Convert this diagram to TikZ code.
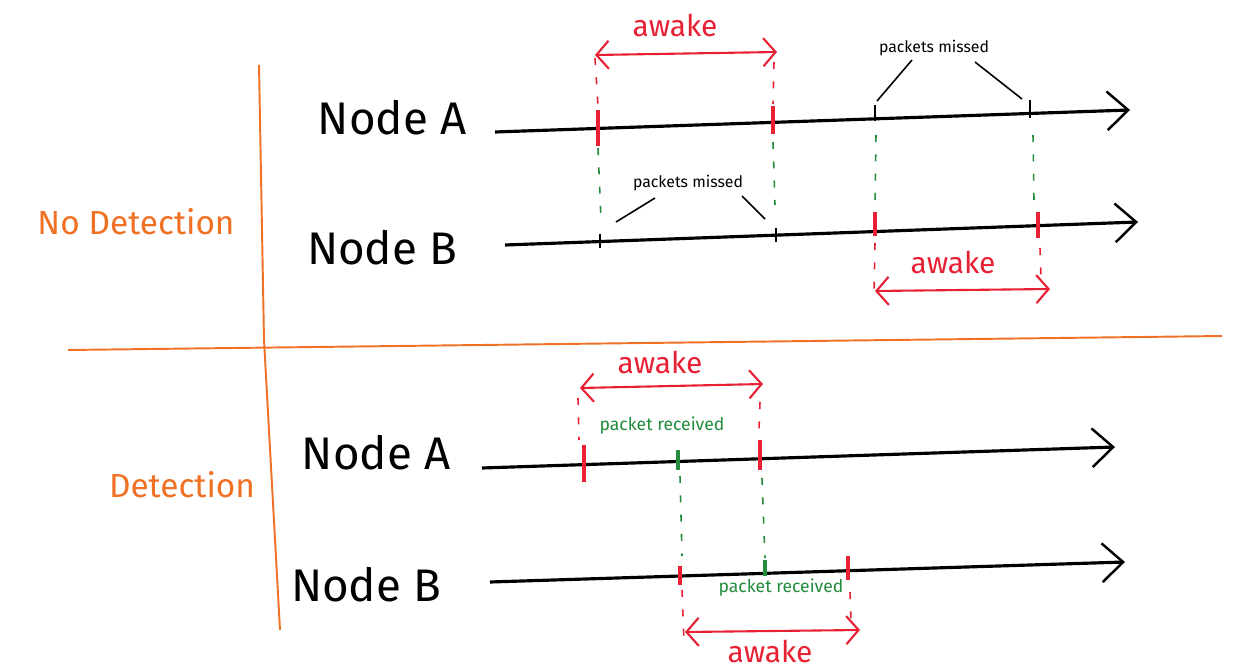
\documentclass[tikz,border=0pt]{standalone}
\usepackage{fontspec}
\setmainfont{Fira Sans}
\usetikzlibrary{arrows.meta}
\definecolor{sketchorange}{RGB}{240,112,36}
\definecolor{sketchred}{RGB}{232,32,52}
\definecolor{sketchgreen}{RGB}{34,140,60}
\tikzset{
  timeline/.style={line width=1.8pt,
    -{Straight Barb[length=12pt,width=22pt,line width=1.4pt]}},
  divider/.style={sketchorange,line width=1.1pt},
  redtick/.style={sketchred,line width=1.8pt},
  blacktick/.style={black,line width=1.4pt},
  greentick/.style={sketchgreen,line width=2.2pt},
  reddash/.style={sketchred,line width=0.9pt,dash pattern=on 4pt off 7pt},
  greendash/.style={sketchgreen,line width=0.9pt,dash pattern=on 4pt off 7pt},
  awakearrow/.style={sketchred,line width=1.2pt,
    {Straight Barb[length=7pt,width=16pt]}-{Straight Barb[length=7pt,width=16pt]}},
  nodelabel/.style={font=\fontsize{26}{28}\selectfont},
  awakelabel/.style={text=sketchred,font=\fontsize{17}{19}\selectfont},
  casetext/.style={text=sketchorange,font=\fontsize{19}{21}\selectfont},
  note/.style={font=\fontsize{9}{10}\selectfont},
  pointer/.style={line width=0.9pt}
}

\begin{document}
\begin{tikzpicture}[x=0.02cm,y=-0.02cm]
  \useasboundingbox (0,0) rectangle (1241,669);

  % dividers
  \draw[divider] (259,65) -- (264,340) -- (280,630);
  \draw[divider] (68,350) -- (1222,336);
  \node[casetext] (nodet) at (136,222) {No Detection};
  \node[casetext] (det) at (182,485) {Detection};

  % ---- no detection ----
  \coordinate (nAs) at (495,132);
  \coordinate (nAe) at (1130,110);
  \coordinate (nBs) at (505,245);
  \coordinate (nBe) at (1138,222);
  \node[nodelabel] (labnA) at (392,118) {Node A};
  \node[nodelabel] (labnB) at (382,248) {Node B};
  \draw[timeline] (nAs) -- (nAe);
  \draw[timeline] (nBs) -- (nBe);

  % A awake
  \draw[reddash] (595,58) -- (598,106);
  \draw[reddash] (774,62) -- (773,104);
  \draw[redtick] (598,110) -- (598,146);
  \draw[redtick] (773,106) -- (773,134);
  \coordinate (aw1s) at (595,55);
  \coordinate (aw1e) at (777,52);
  \draw[awakearrow] (aw1s) -- (aw1e);
  \node[awakelabel] (aw1) at (675,25) {awake};
  \draw[greendash] (598,148) -- (601,220);
  \draw[greendash] (773,142) -- (775,205);

  % B missed
  \draw[blacktick] (600,234) -- (600,248);
  \draw[blacktick] (776,228) -- (776,242);
  \node[note] (miss1) at (688,183) {packets missed};
  \coordinate (m1a) at (616,222);
  \coordinate (m1b) at (765,219);
  \draw[pointer] (655,198) -- (m1a);
  \draw[pointer] (742,196) -- (m1b);

  % A missed
  \draw[blacktick] (875,105) -- (875,121);
  \draw[blacktick] (1030,100) -- (1030,118);
  \node[note] (miss2) at (934,48) {packets missed};
  \coordinate (m2a) at (877,101);
  \coordinate (m2b) at (1022,99);
  \draw[pointer] (912,60) -- (m2a);
  \draw[pointer] (975,62) -- (m2b);
  \draw[greendash] (876,135) -- (875,208);
  \draw[greendash] (1033,135) -- (1034,200);

  % B awake
  \draw[redtick] (875,212) -- (875,236);
  \draw[redtick] (1038,212) -- (1038,238);
  \draw[reddash] (875,243) -- (874,296);
  \draw[reddash] (1040,248) -- (1041,278);
  \coordinate (aw2s) at (875,291);
  \coordinate (aw2e) at (1050,289);
  \draw[awakearrow] (aw2s) -- (aw2e);
  \node[awakelabel] (aw2) at (953,262) {awake};

  % ---- detection ----
  \coordinate (dAs) at (482,468);
  \coordinate (dAe) at (1115,447);
  \coordinate (dBs) at (490,582);
  \coordinate (dBe) at (1125,562);
  \node[nodelabel] (labdA) at (376,453) {Node A};
  \node[nodelabel] (labdB) at (366,585) {Node B};
  \draw[timeline] (dAs) -- (dAe);
  \draw[timeline] (dBs) -- (dBe);

  % A awake
  \coordinate (aw3s) at (580,388);
  \coordinate (aw3e) at (763,384);
  \draw[awakearrow] (aw3s) -- (aw3e);
  \node[awakelabel] (aw3) at (660,362) {awake};
  \draw[reddash] (578,398) -- (579,440);
  \draw[reddash] (760,402) -- (759,430);
  \draw[redtick] (584,445) -- (584,482);
  \draw[redtick] (760,440) -- (760,470);
  \draw[greentick] (678,450) -- (678,470);
  \node[note,text=sketchgreen,font=\fontsize{10}{11}\selectfont] (rec1) at (662,426) {packet received};
  \draw[greendash] (680,476) -- (682,556);
  \draw[greendash] (762,478) -- (765,558);

  % B awake
  \draw[redtick] (680,566) -- (680,585);
  \draw[greentick] (765,560) -- (765,576);
  \draw[redtick] (848,556) -- (848,580);
  \node[note,text=sketchgreen,font=\fontsize{10}{11}\selectfont] (rec2) at (781,588) {packet received};
  \draw[reddash] (682,590) -- (684,642);
  \draw[reddash] (850,592) -- (851,620);
  \coordinate (aw4s) at (685,632);
  \coordinate (aw4e) at (860,630);
  \draw[awakearrow] (aw4s) -- (aw4e);
  \node[awakelabel] (aw4) at (770,651) {awake};
\end{tikzpicture}
\end{document}
